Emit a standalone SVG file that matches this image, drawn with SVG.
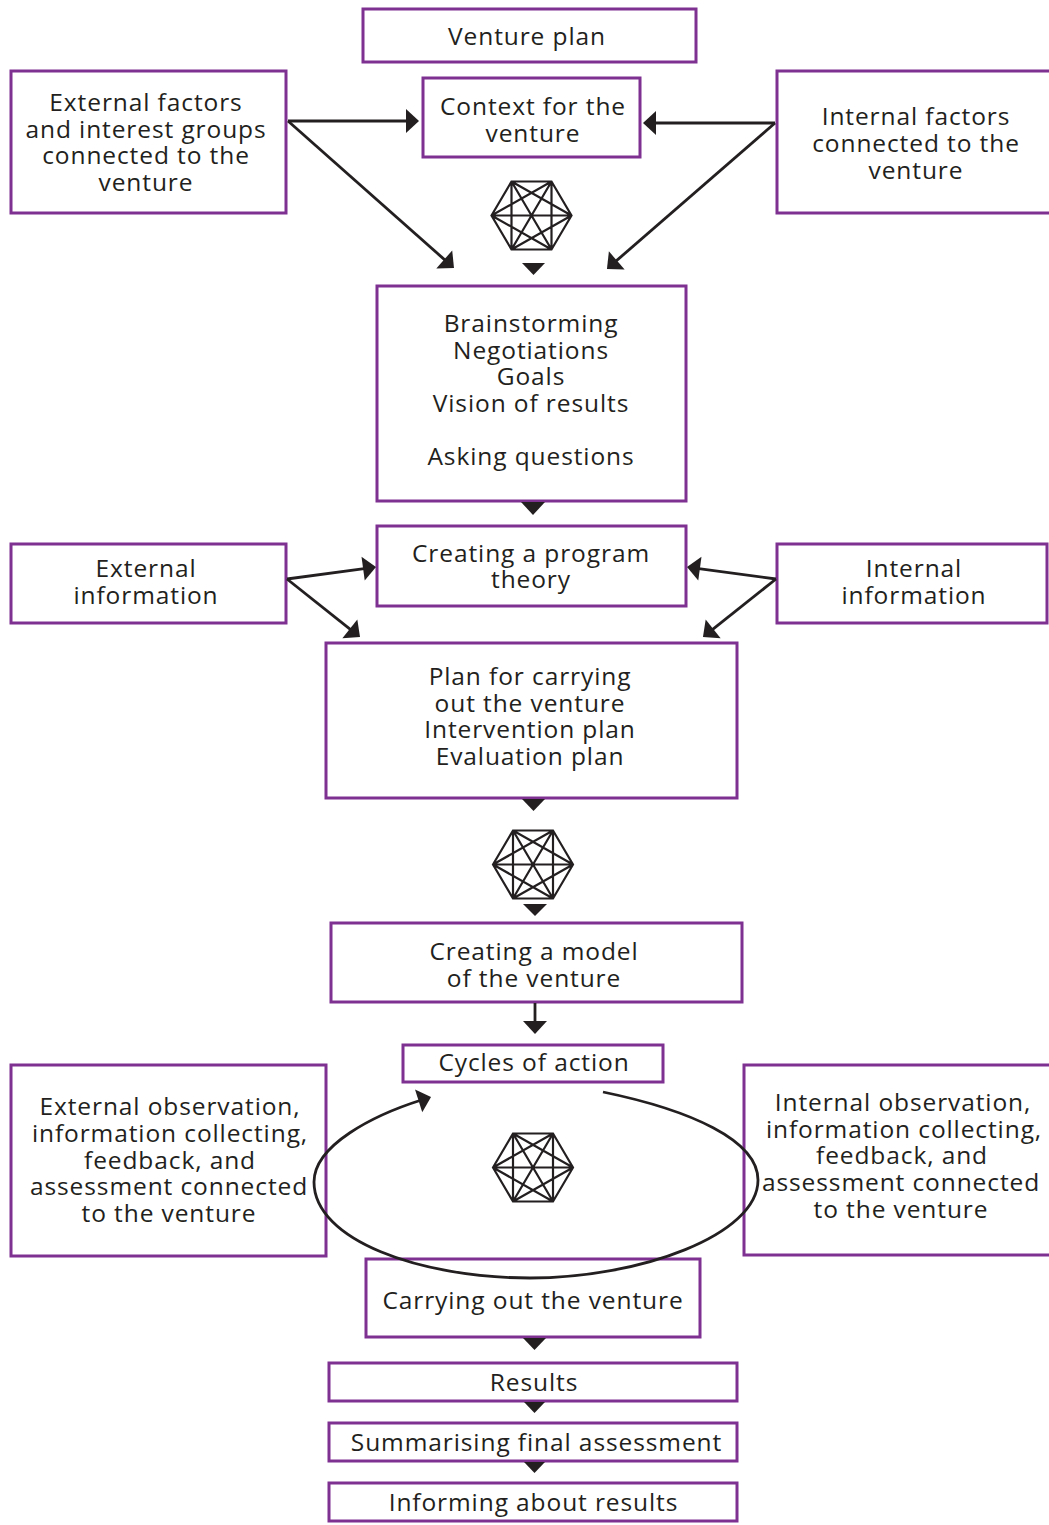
<svg xmlns="http://www.w3.org/2000/svg" width="1049" height="1525" viewBox="0 0 1049 1525">
<style>
.box { fill: #ffffff; stroke: #7F3192; stroke-width: 3; }
.t { font-family: "Open Sans", "Liberation Sans", sans-serif; font-size: 24.5px; fill: #231F20; text-anchor: middle; letter-spacing: 0.9px; }
.c { stroke: #231F20; stroke-width: 2.8; fill: none; }
.tri { fill: #231F20; }
.hex { stroke: #231F20; stroke-width: 2.2; fill: none; }
</style>
<defs>
<marker id="ah" markerUnits="userSpaceOnUse" markerWidth="14" markerHeight="24" refX="3" refY="12" orient="auto" overflow="visible">
<path d="M0,0 L13,12 L0,24 Z" fill="#231F20"/>
</marker>
<symbol id="k6" overflow="visible">
<path class="hex" d="M-40,0 L-20,-34 L20,-34 L40,0 L20,34 L-20,34 Z M-40,0 L40,0 M-20,-34 L20,34 M20,-34 L-20,34 M-20,-34 L-20,34 M20,-34 L20,34 M-40,0 L20,-34 M-40,0 L20,34 M40,0 L-20,-34 M40,0 L-20,34"/>
</symbol>
</defs>
<rect x="0" y="0" width="1049" height="1525" fill="#ffffff"/>

<g id="venture-plan">
<rect class="box" x="363" y="9" width="333" height="53"/>
<text class="t" x="527" y="45">Venture plan</text>
</g>

<g id="external-factors">
<rect class="box" x="11" y="71" width="275" height="142"/>
<text class="t" x="146" y="111">External factors</text>
<text class="t" x="146" y="137.5">and interest groups</text>
<text class="t" x="146" y="164">connected to the</text>
<text class="t" x="146" y="190.5">venture</text>
</g>

<g id="context">
<rect class="box" x="423" y="78" width="217" height="79"/>
<text class="t" x="533" y="115">Context for the</text>
<text class="t" x="533" y="141.5">venture</text>
</g>

<g id="internal-factors">
<rect class="box" x="777" y="71" width="290" height="142"/>
<text class="t" x="916" y="125">Internal factors</text>
<text class="t" x="916" y="152">connected to the</text>
<text class="t" x="916" y="179">venture</text>
</g>

<g id="hexagon-1">
<use href="#k6" x="531.5" y="215.5"/>
</g>

<g id="brainstorming">
<rect class="box" x="377" y="286" width="309" height="215"/>
<text class="t" x="531" y="332">Brainstorming</text>
<text class="t" x="531" y="359">Negotiations</text>
<text class="t" x="531" y="385">Goals</text>
<text class="t" x="531" y="412">Vision of results</text>
<text class="t" x="531" y="465">Asking questions</text>
</g>

<g id="program-theory">
<rect class="box" x="377" y="526" width="309" height="80"/>
<text class="t" x="531" y="562">Creating a program</text>
<text class="t" x="531" y="588">theory</text>
</g>

<g id="external-information">
<rect class="box" x="11" y="544" width="275" height="79"/>
<text class="t" x="146" y="577">External</text>
<text class="t" x="146" y="604">information</text>
</g>

<g id="internal-information">
<rect class="box" x="777" y="544" width="270" height="79"/>
<text class="t" x="914" y="577">Internal</text>
<text class="t" x="914" y="604">information</text>
</g>

<g id="plan">
<rect class="box" x="326" y="643" width="411" height="155"/>
<text class="t" x="530" y="685">Plan for carrying</text>
<text class="t" x="530" y="712">out the venture</text>
<text class="t" x="530" y="738">Intervention plan</text>
<text class="t" x="530" y="765">Evaluation plan</text>
</g>

<g id="hexagon-2">
<use href="#k6" x="533" y="864.5"/>
</g>

<g id="model">
<rect class="box" x="331" y="923" width="411" height="79"/>
<text class="t" x="534" y="960">Creating a model</text>
<text class="t" x="534" y="987">of the venture</text>
</g>

<g id="cycles">
<rect class="box" x="403" y="1045" width="260" height="37"/>
<text class="t" x="534" y="1071">Cycles of action</text>
</g>

<g id="external-observation">
<rect class="box" x="11" y="1065" width="315" height="191"/>
<text class="t" x="170" y="1115">External observation,</text>
<text class="t" x="170" y="1142">information collecting,</text>
<text class="t" x="170" y="1169">feedback, and</text>
<text class="t" x="169" y="1195">assessment connected</text>
<text class="t" x="169" y="1222">to the venture</text>
</g>

<g id="internal-observation">
<rect class="box" x="744" y="1065" width="320" height="190"/>
<text class="t" x="903" y="1111">Internal observation,</text>
<text class="t" x="904" y="1138">information collecting,</text>
<text class="t" x="902" y="1164">feedback, and</text>
<text class="t" x="901" y="1191">assessment connected</text>
<text class="t" x="901" y="1218">to the venture</text>
</g>

<g id="hexagon-3">
<use href="#k6" x="533" y="1167.5"/>
</g>

<g id="carrying-out">
<rect class="box" x="366" y="1259" width="334" height="78"/>
<text class="t" x="533" y="1309">Carrying out the venture</text>
</g>

<g id="results">
<rect class="box" x="329" y="1363" width="408" height="38"/>
<text class="t" x="534" y="1391">Results</text>
</g>

<g id="summarising">
<rect class="box" x="329" y="1423" width="408" height="38"/>
<text class="t" x="536.5" y="1451">Summarising final assessment</text>
</g>

<g id="informing">
<rect class="box" x="329" y="1483" width="408" height="38"/>
<text class="t" x="533.5" y="1511">Informing about results</text>
</g>

<g id="connectors">
<line class="c" x1="288" y1="121" x2="409" y2="121" marker-end="url(#ah)"/>
<line class="c" x1="288" y1="121" x2="446.5" y2="261.4" marker-end="url(#ah)"/>
<line class="c" x1="775" y1="123" x2="653" y2="123" marker-end="url(#ah)"/>
<line class="c" x1="775" y1="123" x2="614.5" y2="262.4" marker-end="url(#ah)"/>
<line class="c" x1="287" y1="579" x2="366.1" y2="568.3" marker-end="url(#ah)"/>
<line class="c" x1="287" y1="579" x2="352.2" y2="630.8" marker-end="url(#ah)"/>
<line class="c" x1="776" y1="579" x2="696.9" y2="568.3" marker-end="url(#ah)"/>
<line class="c" x1="776" y1="579" x2="710.8" y2="630.8" marker-end="url(#ah)"/>
<line class="c" x1="535" y1="1003" x2="535" y2="1024" marker-end="url(#ah)"/>
<path class="c" d="M603,1092 C690,1110 758,1140 758,1180 C758,1235 640,1278 530,1278 C420,1278 314,1240 314,1182 C314,1145 374,1115 421.5,1100" marker-end="url(#ah)"/>
<polygon class="tri" points="522,263 545,263 533.5,275"/>
<polygon class="tri" points="521,502 545,502 533,515"/>
<polygon class="tri" points="522,799 545,799 533.5,811"/>
<polygon class="tri" points="523,904 547,904 535,916"/>
<polygon class="tri" points="523,1338 546,1338 534.5,1350"/>
<polygon class="tri" points="524,1402 545,1402 534.5,1413"/>
<polygon class="tri" points="524,1462 545,1462 534.5,1473"/>
</g>
</svg>
